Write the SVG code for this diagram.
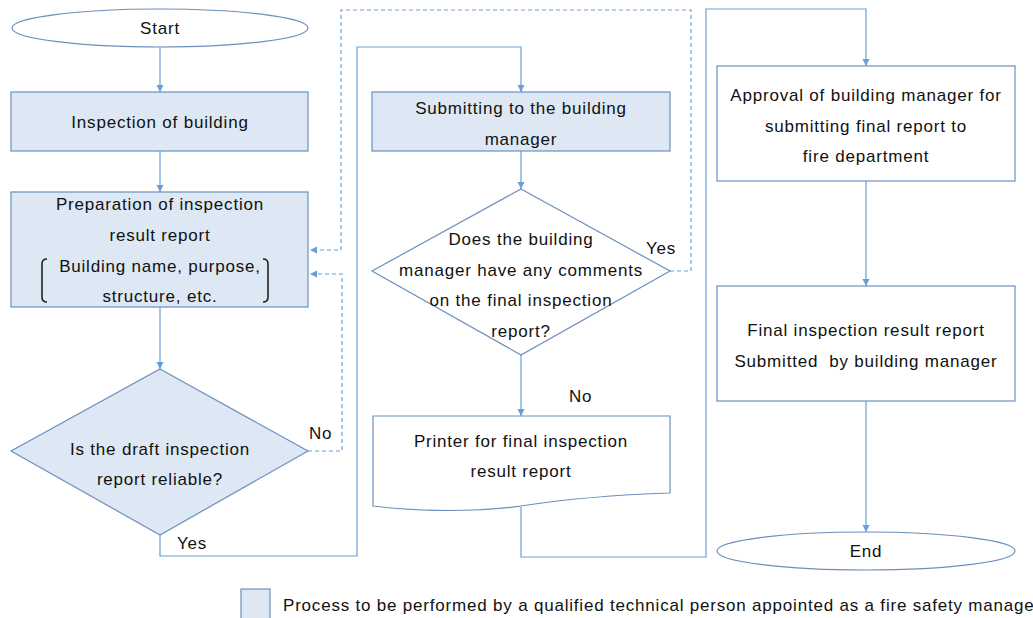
<svg xmlns="http://www.w3.org/2000/svg" width="1033" height="618" viewBox="0 0 1033 618">
<defs>
<style>
.t{font-family:"Liberation Sans","Noto Sans",sans-serif;font-size:17px;letter-spacing:0.8px;fill:#111;text-anchor:middle}
.l{font-family:"Liberation Sans","Noto Sans",sans-serif;font-size:17px;letter-spacing:0.8px;fill:#111}
.p{fill:#dde8f4;stroke:#6d8fbb;stroke-width:1.2}
.w{fill:#fff;stroke:#6d8fbb;stroke-width:1.2}
.c{fill:none;stroke:#6a9fd6;stroke-width:1.2}
.d{fill:none;stroke:#6a9fd6;stroke-width:1.2;stroke-dasharray:4 3}
.b{fill:none;stroke:#222;stroke-width:1.6}
</style>
<marker id="a" markerWidth="8" markerHeight="8" refX="7" refY="4" orient="auto" markerUnits="userSpaceOnUse">
<path d="M0,0.5 L7,4 L0,7.5 z" fill="#6a9fd6"/>
</marker>
</defs>
<rect width="1033" height="618" fill="#fff"/>
<g id="connectors">
<line class="c" x1="160" y1="47" x2="160" y2="92" marker-end="url(#a)"/>
<line class="c" x1="160" y1="151" x2="160" y2="192" marker-end="url(#a)"/>
<line class="c" x1="160" y1="307" x2="160" y2="369" marker-end="url(#a)"/>
<polyline class="d" points="308,451 342,451 342,274 310,274" marker-end="url(#a)"/>
<polyline class="c" points="160,535 160,556 357,556 357,47 521,47 521,92" marker-end="url(#a)"/>
<line class="c" x1="521" y1="151" x2="521" y2="189" marker-end="url(#a)"/>
<polyline class="d" points="670,271 691,271 691,10 341,10 341,250 310,250" marker-end="url(#a)"/>
<line class="c" x1="521" y1="355" x2="521" y2="416" marker-end="url(#a)"/>
<polyline class="c" points="521,507 521,557 706,557 706,9 866,9 866,66" marker-end="url(#a)"/>
<line class="c" x1="866" y1="181" x2="866" y2="286" marker-end="url(#a)"/>
<line class="c" x1="866" y1="401" x2="866" y2="532" marker-end="url(#a)"/>
<text class="l" x="309" y="439">No</text>
<text class="l" x="177" y="549">Yes</text>
<text class="l" x="646" y="254">Yes</text>
<text class="l" x="569" y="402">No</text>
</g>
<g id="start">
<ellipse class="w" cx="160" cy="28" rx="148" ry="19"/>
<text class="t" x="160" y="34">Start</text>
</g>
<g id="inspection">
<rect class="p" x="11" y="92" width="297" height="59"/>
<text class="t" x="160" y="128">Inspection of building</text>
</g>
<g id="preparation">
<rect class="p" x="11" y="192" width="297" height="115"/>
<text class="t" x="160" y="210">Preparation of inspection</text>
<text class="t" x="160" y="241">result report</text>
<text class="t" x="160" y="272">Building name, purpose,</text>
<text class="t" x="160" y="302">structure, etc.</text>
<path class="b" d="M47,259 Q42,259 42,264 L42,297 Q42,302 47,302"/>
<path class="b" d="M263,259 Q268,259 268,264 L268,297 Q268,302 263,302"/>
</g>
<g id="reliable">
<polygon class="p" points="160,369 308,451 160,535 11,451"/>
<text class="t" x="160" y="455">Is the draft inspection</text>
<text class="t" x="160" y="485">report reliable?</text>
</g>
<g id="submitting">
<rect class="p" x="372" y="92" width="298" height="59"/>
<text class="t" x="521" y="114">Submitting to the building</text>
<text class="t" x="521" y="145">manager</text>
</g>
<g id="comments">
<polygon class="w" points="521,189 670,271 521,355 372,271"/>
<text class="t" x="521" y="245">Does the building</text>
<text class="t" x="521" y="276">manager have any comments</text>
<text class="t" x="521" y="306">on the final inspection</text>
<text class="t" x="521" y="337">report?</text>
</g>
<g id="printer">
<path class="w" d="M373,416 L670,416 L670,493 C610,495 560,500 521,506 C480,512 420,512 373,506 Z"/>
<text class="t" x="521" y="447">Printer for final inspection</text>
<text class="t" x="521" y="477">result report</text>
</g>
<g id="approval">
<rect class="w" x="717" y="66" width="298" height="115"/>
<text class="t" x="866" y="101">Approval of building manager for</text>
<text class="t" x="866" y="132">submitting final report to</text>
<text class="t" x="866" y="162">fire department</text>
</g>
<g id="final">
<rect class="w" x="717" y="286" width="298" height="115"/>
<text class="t" x="866" y="336">Final inspection result report</text>
<text class="t" x="866" y="367" xml:space="preserve">Submitted  by building manager</text>
</g>
<g id="end">
<ellipse class="w" cx="866" cy="551" rx="149" ry="19"/>
<text class="t" x="866" y="557">End</text>
</g>
<g id="legend">
<rect class="p" x="241" y="589" width="29" height="32"/>
<text class="l" x="283" y="611">Process to be performed by a qualified technical person appointed as a fire safety manage</text>
</g>
</svg>
